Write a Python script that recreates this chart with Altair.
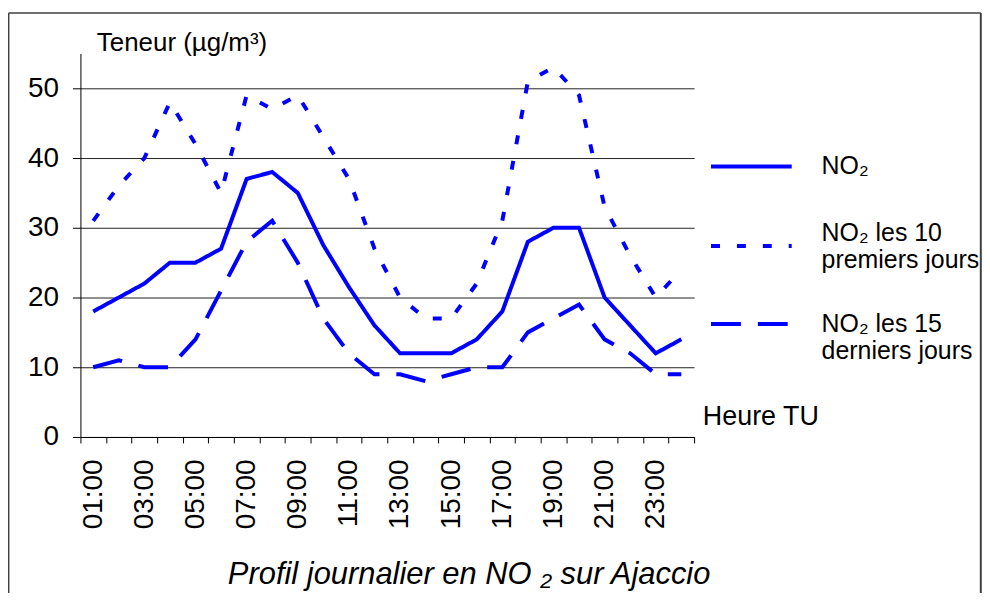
import altair as alt
import pandas as pd

# ---------------- data ----------------
hours = ["01:00", "02:00", "03:00", "04:00", "05:00", "06:00", "07:00", "08:00",
         "09:00", "10:00", "11:00", "12:00", "13:00", "14:00", "15:00", "16:00",
         "17:00", "18:00", "19:00", "20:00", "21:00", "22:00", "23:00", "24:00"]

series_names = ["NO₂", "NO₂ les 10 premiers jours", "NO₂ les 15 derniers jours"]

no2_all = [18, 20, 22, 25, 25, 27, 37, 38, 35, 27.5, 21.5, 16,
           12, 12, 12, 14, 18, 28, 30, 30, 20, 16, 12, 14]
no2_first10 = [31, 36, 40, 48, 42, 35, 49, 47, 49, 43, 37, 27,
               20, 17, 17, 22, 31, 51, 53, 49, 33, 26, 20, 24]
no2_last15 = [10, 11, 10, 10, 14, 21, 28, 31, 25, 17, 12, 9,
              9, 8, 9, 10, 10, 15, 17, 19, 14, 12, 9, 9]

y_ticks = [0, 10, 20, 30, 40, 50]
dash_patterns = [[1, 0], [9, 17], [30, 17]]

y_title = "Teneur (µg/m³)"
x_title = "Heure TU"
chart_title = "Profil journalier en NO ₂ sur Ajaccio"

FONT = "Liberation Sans"
BLUE = "#0000FF"

rows = []
for name, vals in zip(series_names, [no2_all, no2_first10, no2_last15]):
    for i, v in enumerate(vals):
        rows.append({"hour": i + 1, "label": hours[i], "series": name, "value": v})
df = pd.DataFrame(rows)

n = len(hours)
edge_ticks = [i + 0.5 for i in range(n + 1)]
arr = "[" + ",".join("'" + h + "'" for h in hours) + "]"
x_label_expr = (f"(datum.value - 0.5) % 2 == 0 && datum.value < {n} "
                f"? {arr}[datum.value - 0.5] : ''")

legend_label_expr = ("split(replace(replace(datum.label, ' premiers', '|premiers'), "
                     "' derniers', '|derniers'), '|')")

common_legend = dict(
    orient="none", legendX=631, title=None,
    symbolType="stroke", symbolSize=6561, symbolStrokeWidth=4, symbolOffset=0,
    symbolStrokeColor=BLUE,
    labelOffset=28, labelFontSize=25, labelFont=FONT, labelColor="black",
    labelLimit=400, clipHeight=62, padding=0, labelExpr=legend_label_expr,
)

# solid and dashed entries: label's first line level with the swatch
legend_a = alt.Legend(values=[series_names[0], series_names[2]], legendY=82.5,
                      labelBaseline="middle", rowPadding=96, **common_legend)
# dotted entry: swatch between the two label lines
legend_b = alt.Legend(values=[series_names[1]], legendY=162.2,
                      labelBaseline="bottom", symbolDash=dash_patterns[1],
                      **common_legend)

lines = alt.Chart(df).mark_line(strokeWidth=4, color=BLUE).encode(
    x=alt.X("hour:Q",
            scale=alt.Scale(domain=[0.5, n + 0.5], nice=False, zero=False),
            axis=alt.Axis(values=edge_ticks, grid=False, tickSize=6,
                          labelExpr=x_label_expr, labelAngle=270,
                          labelAlign="right", labelBaseline="middle",
                          labelOffset=12.8, labelPadding=16, labelFontSize=28,
                          labelOverlap=False, labelFlush=False,
                          title=x_title, titleX=624.3, titleY=-12.5,
                          titleAlign="left", titleBaseline="alphabetic",
                          titleAngle=0, titleFontSize=27,
                          titleFontWeight="normal")),
    y=alt.Y("value:Q",
            scale=alt.Scale(domain=[0, 55], nice=False, zero=True),
            axis=alt.Axis(values=y_ticks, grid=True, gridColor="#222222",
                          gridWidth=1, tickSize=8, labelFontSize=28,
                          labelPadding=14,
                          title=y_title, titleX=16, titleY=-2.5,
                          titleAlign="left", titleBaseline="alphabetic",
                          titleAngle=0, titleFontSize=26,
                          titleFontWeight="normal")),
    color=alt.Color("series:N",
                    scale=alt.Scale(domain=series_names, range=[BLUE] * 3),
                    legend=legend_b),
    strokeDash=alt.StrokeDash("series:N",
                              scale=alt.Scale(range=dash_patterns),
                              legend=legend_a),
    detail="series:N",
)

one = alt.Data(values=[{}])
frame_color = "#404040"
frame_top = alt.Chart(one).mark_rule(color=frame_color, strokeWidth=1.5).encode(
    x=alt.value(-72), x2=alt.value(903.8), y=alt.value(-40.5))
frame_left = alt.Chart(one).mark_rule(color=frame_color, strokeWidth=1.5).encode(
    x=alt.value(-72), y=alt.value(-40.5), y2=alt.value(541.5))
frame_right = alt.Chart(one).mark_rule(color=frame_color, strokeWidth=2).encode(
    x=alt.value(903.8), y=alt.value(-40.5), y2=alt.value(541.5))

title_text = alt.Chart(one).mark_text(
    text=chart_title, align="left", baseline="alphabetic", font=FONT,
    fontSize=31, fontStyle="italic", color="black"
).encode(x=alt.value(148), y=alt.value(532.5))

chart = alt.layer(frame_top, frame_left, frame_right, lines, title_text).properties(
    width=616, height=385,
    autosize=alt.AutoSizeParams(type="none"),
    padding={"left": 72.7, "top": 44.5, "right": 289, "bottom": 156.5},
    background="white",
).configure_view(stroke=None).configure_axis(
    domainColor="black", domainWidth=1, tickColor="black", tickWidth=1,
    labelColor="black", titleColor="black", labelFont=FONT, titleFont=FONT,
)

chart.save("out.html", embed_options={"renderer": "svg", "actions": False})
